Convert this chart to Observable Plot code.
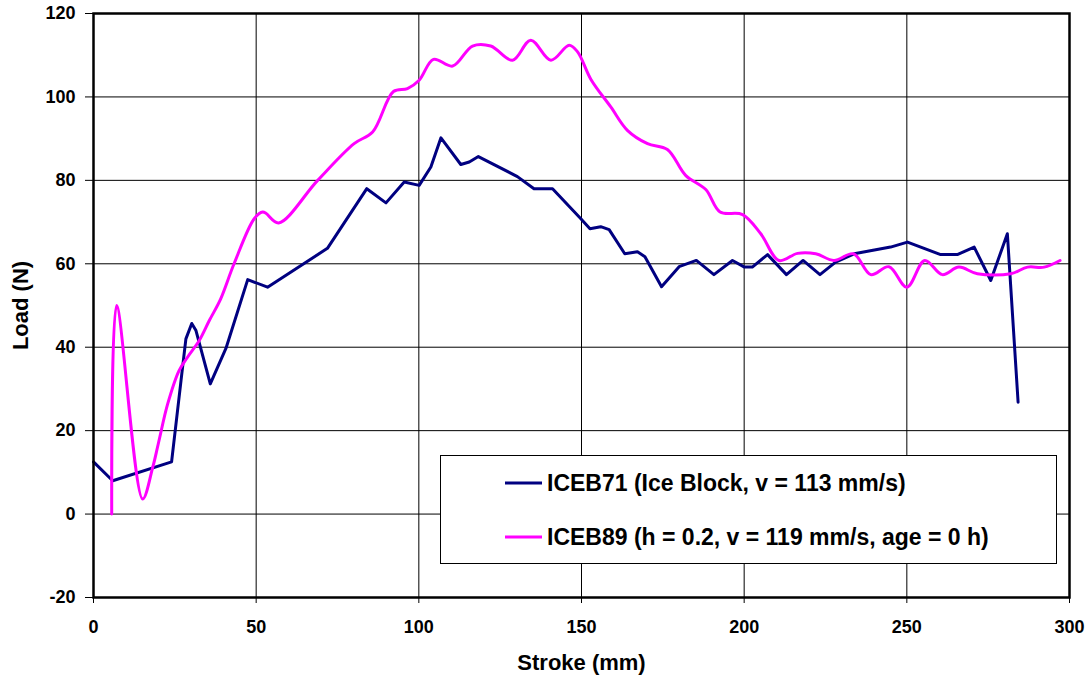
<!DOCTYPE html>
<html>
<head>
<meta charset="utf-8">
<script src="https://cdn.jsdelivr.net/npm/d3@7"></script>
<script src="https://cdn.jsdelivr.net/npm/@observablehq/plot@0.6"></script>
<style>
  html, body { margin: 0; padding: 0; background: #fff; }
  #wrap { position: relative; width: 1092px; height: 681px; font-family: "Liberation Sans", Arial, sans-serif; }
  #legend {
    position: absolute; left: 440px; top: 455px; width: 617px; height: 109px;
    box-sizing: border-box; border: 1px solid #000; background: #fff;
  }
  .row { position: absolute; left: 0; height: 30px; display: flex; align-items: center; }
  .row svg { display: block; margin-left: 64px; }
  .row span { margin-left: 5px; font-size: 23px; font-weight: bold; color: #000; white-space: nowrap; }
</style>
</head>
<body>
<div id="wrap">
  <div id="chart"></div>
  <div id="legend"></div>
</div>
<script>
// Stroke (mm) and load (N) for each test
const iceb71Stroke = [0, 5.9, 24, 26.9, 28.4, 30.2, 31.5, 35.9, 40.7, 47.4, 53.5, 71.9, 84, 89.9, 95.5, 100.1, 103.7, 106.8, 112.9, 115.5, 118.3, 130.3, 135.4, 141.1, 149.8, 152.6, 155.9, 158.5, 163.3, 167.2, 169.5, 174.6, 180, 185.3, 190.7, 196.4, 200.1, 202.5, 207.2, 213, 218.1, 223.3, 228.1, 233.8, 245, 250.2, 260.4, 265.5, 270.7, 275.8, 280.9, 284.2];
const iceb71Load   = [12.5, 8, 12.5, 32, 42, 45.7, 44, 31.2, 39.7, 56.2, 54.4, 63.7, 78, 74.6, 79.6, 78.8, 83.2, 90.2, 83.8, 84.4, 85.7, 80.9, 78, 78, 70.8, 68.4, 68.9, 68.2, 62.4, 62.9, 61.7, 54.5, 59.3, 60.8, 57.4, 60.8, 59.2, 59.2, 62.2, 57.4, 60.8, 57.4, 60.4, 62.4, 64, 65.2, 62.2, 62.2, 64, 56, 67.2, 26.8];

const iceb89Stroke = [5.6, 7.1, 15.1, 18.2, 19.9, 22.8, 26.3, 28.9, 32.5, 35.6, 39.1, 43.2, 49.4, 52, 53, 56.9, 68.9, 80.1, 85.8, 92.2, 96.5, 100.1, 104.5, 110.4, 116.5, 122.1, 128.8, 134.4, 140.6, 146.2, 148.8, 152.9, 159, 164.1, 170.3, 176.4, 182, 188.2, 192.6, 199.5, 205.1, 210.7, 216.4, 222, 227.6, 233.6, 238.9, 244.5, 250, 255.5, 260.9, 266, 271.7, 281.9, 287.1, 292.2, 297.1];
const iceb89Load   = [0, 50, 3.6, 11.2, 16.8, 26.4, 34.4, 37.6, 41.6, 46.4, 51.6, 60, 70.8, 72.4, 72.1, 69.8, 80, 88.8, 91.6, 101.3, 102, 104, 109, 107.4, 112.2, 112.2, 108.8, 113.6, 108.8, 112.4, 110.8, 104.2, 97.6, 92, 88.8, 87.4, 81.2, 77.8, 72.4, 71.8, 67.2, 60.8, 62.5, 62.4, 60.8, 62.4, 57.4, 59.3, 54.4, 60.8, 57.4, 59.2, 57.6, 57.6, 59.2, 59.2, 60.8];

const seriesNames  = ["ICEB71 (Ice Block, v = 113 mm/s)", "ICEB89 (h = 0.2, v = 119 mm/s, age = 0 h)"];
const seriesColors = ["#000080", "#FF00FF"];

const xTicks = [0, 50, 100, 150, 200, 250, 300];
const yTicks = [-20, 0, 20, 40, 60, 80, 100, 120];

const toRows = (xs, ys) => xs.map((x, i) => ({x, y: ys[i]}));
const rows71 = toRows(iceb71Stroke, iceb71Load);
const rows89 = toRows(iceb89Stroke, iceb89Load);

const chart = Plot.plot({
  width: 1092,
  height: 681,
  marginLeft: 93,
  marginRight: 23,
  marginTop: 13,
  marginBottom: 84,
  style: {fontFamily: "'Liberation Sans', Arial, sans-serif", fontSize: "18px", fontWeight: "bold", color: "#000", background: "#fff"},
  x: {domain: [0, 300]},
  y: {domain: [-20, 120]},
  marks: [
    Plot.gridX(xTicks, {stroke: "#000", strokeOpacity: 1, strokeWidth: 1}),
    Plot.gridY(yTicks, {stroke: "#000", strokeOpacity: 1, strokeWidth: 1}),
    Plot.axisX(xTicks, {tickSize: 6, tickPadding: 17, tickFormat: d => `${d}`, label: null, stroke: "#000"}),
    Plot.axisY(yTicks, {tickSize: 8, tickPadding: 10, tickFormat: d => `${d}`, label: null, stroke: "#000"}),
    Plot.line(rows71, {x: "x", y: "y", stroke: seriesColors[0], strokeWidth: 3, strokeLinejoin: "round", curve: "linear"}),
    Plot.line(rows89, {x: "x", y: "y", stroke: seriesColors[1], strokeWidth: 3, curve: "catmull-rom"}),
    Plot.frame({stroke: "#000", strokeWidth: 2.5}),
    Plot.text(["Load (N)"], {frameAnchor: "left", dx: -73, rotate: -90, textAnchor: "middle", lineAnchor: "middle", fontSize: 22, fontWeight: "bold", fill: "#000"}),
    Plot.text(["Stroke (mm)"], {frameAnchor: "bottom", dy: 65, textAnchor: "middle", lineAnchor: "middle", fontSize: 22, fontWeight: "bold", fill: "#000"})
  ]
});
document.getElementById("chart").appendChild(chart);

// Legend box with line swatches
const legend = document.getElementById("legend");
const rowTops = [12, 66];
seriesNames.forEach((name, i) => {
  const row = document.createElement("div");
  row.className = "row";
  row.style.top = rowTops[i] + "px";
  row.innerHTML = `<svg width="37" height="6"><line x1="0" x2="37" y1="3" y2="3" stroke="${seriesColors[i]}" stroke-width="3"/></svg><span>${name}</span>`;
  legend.appendChild(row);
});
</script>
</body>
</html>
